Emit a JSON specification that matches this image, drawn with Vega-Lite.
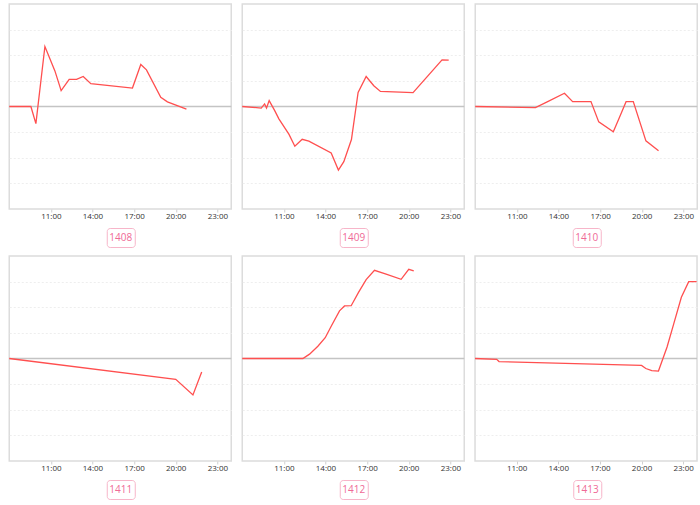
{
  "$schema": "https://vega.github.io/schema/vega-lite/v6.json",
  "padding": {"left": 5, "top": 3, "right": 0, "bottom": 0},
  "config": {
    "font": "Open Sans",
    "view": {"stroke": "#dcdcdc", "strokeWidth": 1.5},
    "axisX": {"grid": false, "domain": false, "tickSize": 3, "tickColor": "#d0d0d0", "labelPadding": 0, "labelFontSize": 8, "labelColor": "#333333", "title": null},
    "axisY": {"labels": false, "ticks": false, "domain": false, "grid": true, "gridColor": "#eeeeee", "gridDash": [2, 2], "title": null}
  },
  "data": {
    "values": [
      {"id": "1408", "h": 8.0, "v": 0},
      {"id": "1408", "h": 9.56, "v": 0},
      {"id": "1408", "h": 9.92, "v": -0.67},
      {"id": "1408", "h": 10.57, "v": 2.34},
      {"id": "1408", "h": 11.29, "v": 1.39},
      {"id": "1408", "h": 11.74, "v": 0.62},
      {"id": "1408", "h": 12.32, "v": 1.06},
      {"id": "1408", "h": 12.85, "v": 1.06},
      {"id": "1408", "h": 13.33, "v": 1.17},
      {"id": "1408", "h": 13.88, "v": 0.89},
      {"id": "1408", "h": 16.88, "v": 0.72},
      {"id": "1408", "h": 17.48, "v": 1.64},
      {"id": "1408", "h": 17.89, "v": 1.43},
      {"id": "1408", "h": 18.92, "v": 0.36},
      {"id": "1408", "h": 19.4, "v": 0.18},
      {"id": "1408", "h": 20.77, "v": -0.1},
      {"id": "1409", "h": 8.0, "v": 0},
      {"id": "1409", "h": 9.37, "v": -0.06},
      {"id": "1409", "h": 9.61, "v": 0.1},
      {"id": "1409", "h": 9.75, "v": -0.06},
      {"id": "1409", "h": 9.94, "v": 0.23},
      {"id": "1409", "h": 10.33, "v": -0.15},
      {"id": "1409", "h": 10.64, "v": -0.48},
      {"id": "1409", "h": 11.36, "v": -1.08},
      {"id": "1409", "h": 11.79, "v": -1.55},
      {"id": "1409", "h": 12.32, "v": -1.28},
      {"id": "1409", "h": 12.8, "v": -1.35},
      {"id": "1409", "h": 14.41, "v": -1.81},
      {"id": "1409", "h": 14.93, "v": -2.48},
      {"id": "1409", "h": 15.32, "v": -2.15},
      {"id": "1409", "h": 15.87, "v": -1.29},
      {"id": "1409", "h": 16.35, "v": 0.55},
      {"id": "1409", "h": 16.93, "v": 1.17},
      {"id": "1409", "h": 17.48, "v": 0.81},
      {"id": "1409", "h": 17.96, "v": 0.59},
      {"id": "1409", "h": 20.31, "v": 0.54},
      {"id": "1409", "h": 22.4, "v": 1.82},
      {"id": "1409", "h": 22.88, "v": 1.81},
      {"id": "1410", "h": 8.0, "v": 0},
      {"id": "1410", "h": 12.34, "v": -0.04},
      {"id": "1410", "h": 13.22, "v": 0.19},
      {"id": "1410", "h": 14.43, "v": 0.52},
      {"id": "1410", "h": 15.02, "v": 0.19},
      {"id": "1410", "h": 16.34, "v": 0.19},
      {"id": "1410", "h": 16.9, "v": -0.6},
      {"id": "1410", "h": 17.95, "v": -0.99},
      {"id": "1410", "h": 18.39, "v": -0.43},
      {"id": "1410", "h": 18.87, "v": 0.19},
      {"id": "1410", "h": 19.39, "v": 0.19},
      {"id": "1410", "h": 20.3, "v": -1.34},
      {"id": "1410", "h": 21.21, "v": -1.73},
      {"id": "1411", "h": 8.0, "v": 0},
      {"id": "1411", "h": 20.0, "v": -0.81},
      {"id": "1411", "h": 21.24, "v": -1.42},
      {"id": "1411", "h": 21.87, "v": -0.53},
      {"id": "1412", "h": 8.0, "v": 0},
      {"id": "1412", "h": 12.37, "v": 0},
      {"id": "1412", "h": 12.85, "v": 0.17},
      {"id": "1412", "h": 13.45, "v": 0.48},
      {"id": "1412", "h": 13.98, "v": 0.81},
      {"id": "1412", "h": 14.41, "v": 1.26},
      {"id": "1412", "h": 15.01, "v": 1.86},
      {"id": "1412", "h": 15.37, "v": 2.05},
      {"id": "1412", "h": 15.85, "v": 2.06},
      {"id": "1412", "h": 16.38, "v": 2.58},
      {"id": "1412", "h": 16.93, "v": 3.08},
      {"id": "1412", "h": 17.53, "v": 3.44},
      {"id": "1412", "h": 18.37, "v": 3.29},
      {"id": "1412", "h": 19.45, "v": 3.09},
      {"id": "1412", "h": 20.0, "v": 3.48},
      {"id": "1412", "h": 20.36, "v": 3.42},
      {"id": "1413", "h": 8.0, "v": 0},
      {"id": "1413", "h": 9.56, "v": -0.03},
      {"id": "1413", "h": 9.73, "v": -0.12},
      {"id": "1413", "h": 20.0, "v": -0.27},
      {"id": "1413", "h": 20.31, "v": -0.39},
      {"id": "1413", "h": 20.74, "v": -0.47},
      {"id": "1413", "h": 21.22, "v": -0.49},
      {"id": "1413", "h": 21.84, "v": 0.45},
      {"id": "1413", "h": 22.32, "v": 1.35},
      {"id": "1413", "h": 22.87, "v": 2.39},
      {"id": "1413", "h": 23.4, "v": 3.0},
      {"id": "1413", "h": 23.97, "v": 3.0}
    ]
  },
  "spacing": 7,
  "vconcat": [
    {
      "spacing": 5,
      "hconcat": [
        {"spacing": 6, "center": true, "vconcat": [
          {"width": 222, "height": 205, "transform": [{"filter": "datum.id === '1408'"}], "layer": [
            {"data": {"values": [{"z": 0}]}, "mark": {"type": "rule", "color": "#c4c4c4", "strokeWidth": 1.5}, "encoding": {"y": {"field": "z", "type": "quantitative", "scale": {"domain": [-4, 4], "nice": false}, "axis": {"values": [-3, -2, -1, 1, 2, 3]}}}},
            {"mark": {"type": "line", "color": "#ff4f4f", "strokeWidth": 1.3}, "encoding": {"x": {"field": "h", "type": "quantitative", "scale": {"domain": [8, 24], "nice": false}, "axis": {"values": [11, 14, 17, 20, 23], "labelExpr": "datum.value + ':00'"}}, "y": {"field": "v", "type": "quantitative", "scale": {"domain": [-4, 4], "nice": false}}}}
          ]},
          {"width": 28, "height": 19, "view": {"stroke": "#f7b5c9", "strokeWidth": 1, "cornerRadius": 3}, "data": {"values": [{"label": "1408"}]}, "mark": {"type": "text", "color": "#ef6a96", "fontSize": 10, "align": "center", "baseline": "middle"}, "encoding": {"text": {"field": "label"}}}
        ]},
        {"spacing": 6, "center": true, "vconcat": [
          {"width": 222, "height": 205, "transform": [{"filter": "datum.id === '1409'"}], "layer": [
            {"data": {"values": [{"z": 0}]}, "mark": {"type": "rule", "color": "#c4c4c4", "strokeWidth": 1.5}, "encoding": {"y": {"field": "z", "type": "quantitative", "scale": {"domain": [-4, 4], "nice": false}, "axis": {"values": [-3, -2, -1, 1, 2, 3]}}}},
            {"mark": {"type": "line", "color": "#ff4f4f", "strokeWidth": 1.3}, "encoding": {"x": {"field": "h", "type": "quantitative", "scale": {"domain": [8, 24], "nice": false}, "axis": {"values": [11, 14, 17, 20, 23], "labelExpr": "datum.value + ':00'"}}, "y": {"field": "v", "type": "quantitative", "scale": {"domain": [-4, 4], "nice": false}}}}
          ]},
          {"width": 28, "height": 19, "view": {"stroke": "#f7b5c9", "strokeWidth": 1, "cornerRadius": 3}, "data": {"values": [{"label": "1409"}]}, "mark": {"type": "text", "color": "#ef6a96", "fontSize": 10, "align": "center", "baseline": "middle"}, "encoding": {"text": {"field": "label"}}}
        ]},
        {"spacing": 6, "center": true, "vconcat": [
          {"width": 222, "height": 205, "transform": [{"filter": "datum.id === '1410'"}], "layer": [
            {"data": {"values": [{"z": 0}]}, "mark": {"type": "rule", "color": "#c4c4c4", "strokeWidth": 1.5}, "encoding": {"y": {"field": "z", "type": "quantitative", "scale": {"domain": [-4, 4], "nice": false}, "axis": {"values": [-3, -2, -1, 1, 2, 3]}}}},
            {"mark": {"type": "line", "color": "#ff4f4f", "strokeWidth": 1.3}, "encoding": {"x": {"field": "h", "type": "quantitative", "scale": {"domain": [8, 24], "nice": false}, "axis": {"values": [11, 14, 17, 20, 23], "labelExpr": "datum.value + ':00'"}}, "y": {"field": "v", "type": "quantitative", "scale": {"domain": [-4, 4], "nice": false}}}}
          ]},
          {"width": 28, "height": 19, "view": {"stroke": "#f7b5c9", "strokeWidth": 1, "cornerRadius": 3}, "data": {"values": [{"label": "1410"}]}, "mark": {"type": "text", "color": "#ef6a96", "fontSize": 10, "align": "center", "baseline": "middle"}, "encoding": {"text": {"field": "label"}}}
        ]}
      ]
    },
    {
      "spacing": 5,
      "hconcat": [
        {"spacing": 6, "center": true, "vconcat": [
          {"width": 222, "height": 205, "transform": [{"filter": "datum.id === '1411'"}], "layer": [
            {"data": {"values": [{"z": 0}]}, "mark": {"type": "rule", "color": "#c4c4c4", "strokeWidth": 1.5}, "encoding": {"y": {"field": "z", "type": "quantitative", "scale": {"domain": [-4, 4], "nice": false}, "axis": {"values": [-3, -2, -1, 1, 2, 3]}}}},
            {"mark": {"type": "line", "color": "#ff4f4f", "strokeWidth": 1.3}, "encoding": {"x": {"field": "h", "type": "quantitative", "scale": {"domain": [8, 24], "nice": false}, "axis": {"values": [11, 14, 17, 20, 23], "labelExpr": "datum.value + ':00'"}}, "y": {"field": "v", "type": "quantitative", "scale": {"domain": [-4, 4], "nice": false}}}}
          ]},
          {"width": 28, "height": 19, "view": {"stroke": "#f7b5c9", "strokeWidth": 1, "cornerRadius": 3}, "data": {"values": [{"label": "1411"}]}, "mark": {"type": "text", "color": "#ef6a96", "fontSize": 10, "align": "center", "baseline": "middle"}, "encoding": {"text": {"field": "label"}}}
        ]},
        {"spacing": 6, "center": true, "vconcat": [
          {"width": 222, "height": 205, "transform": [{"filter": "datum.id === '1412'"}], "layer": [
            {"data": {"values": [{"z": 0}]}, "mark": {"type": "rule", "color": "#c4c4c4", "strokeWidth": 1.5}, "encoding": {"y": {"field": "z", "type": "quantitative", "scale": {"domain": [-4, 4], "nice": false}, "axis": {"values": [-3, -2, -1, 1, 2, 3]}}}},
            {"mark": {"type": "line", "color": "#ff4f4f", "strokeWidth": 1.3}, "encoding": {"x": {"field": "h", "type": "quantitative", "scale": {"domain": [8, 24], "nice": false}, "axis": {"values": [11, 14, 17, 20, 23], "labelExpr": "datum.value + ':00'"}}, "y": {"field": "v", "type": "quantitative", "scale": {"domain": [-4, 4], "nice": false}}}}
          ]},
          {"width": 28, "height": 19, "view": {"stroke": "#f7b5c9", "strokeWidth": 1, "cornerRadius": 3}, "data": {"values": [{"label": "1412"}]}, "mark": {"type": "text", "color": "#ef6a96", "fontSize": 10, "align": "center", "baseline": "middle"}, "encoding": {"text": {"field": "label"}}}
        ]},
        {"spacing": 6, "center": true, "vconcat": [
          {"width": 222, "height": 205, "transform": [{"filter": "datum.id === '1413'"}], "layer": [
            {"data": {"values": [{"z": 0}]}, "mark": {"type": "rule", "color": "#c4c4c4", "strokeWidth": 1.5}, "encoding": {"y": {"field": "z", "type": "quantitative", "scale": {"domain": [-4, 4], "nice": false}, "axis": {"values": [-3, -2, -1, 1, 2, 3]}}}},
            {"mark": {"type": "line", "color": "#ff4f4f", "strokeWidth": 1.3}, "encoding": {"x": {"field": "h", "type": "quantitative", "scale": {"domain": [8, 24], "nice": false}, "axis": {"values": [11, 14, 17, 20, 23], "labelExpr": "datum.value + ':00'"}}, "y": {"field": "v", "type": "quantitative", "scale": {"domain": [-4, 4], "nice": false}}}}
          ]},
          {"width": 28, "height": 19, "view": {"stroke": "#f7b5c9", "strokeWidth": 1, "cornerRadius": 3}, "data": {"values": [{"label": "1413"}]}, "mark": {"type": "text", "color": "#ef6a96", "fontSize": 10, "align": "center", "baseline": "middle"}, "encoding": {"text": {"field": "label"}}}
        ]}
      ]
    }
  ]
}
